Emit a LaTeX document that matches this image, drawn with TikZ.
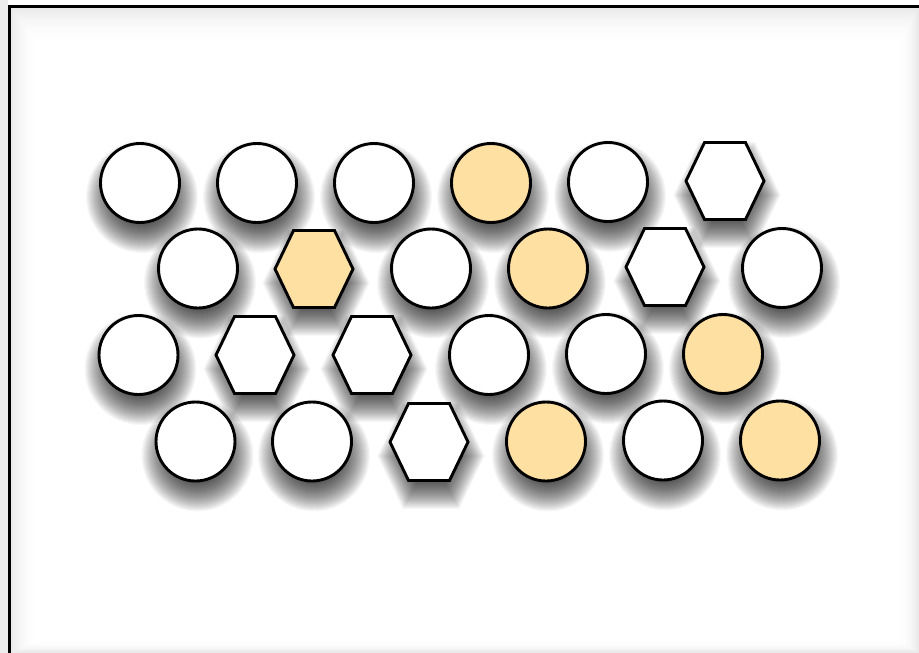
\documentclass[tikz,border=0pt]{standalone}
\definecolor{lightorange}{HTML}{FFE0A3}
\tikzset{
  shapeline/.style={draw=black, line width=2.9pt, line join=miter},
  plaincircle/.style={circle, shapeline, minimum size=79pt, inner sep=0pt},
  shadowlayer/.style={fill=black, opacity=0.03}
}
\newcommand{\hexat}[2]{([shift={({-39*#2},0)}]#1) -- ([shift={({-20.5*#2},{-38.5*#2})}]#1) -- ([shift={({20.5*#2},{-38.5*#2})}]#1)
    -- ([shift={({39*#2},0)}]#1) -- ([shift={({20.5*#2},{38.5*#2})}]#1) -- ([shift={({-20.5*#2},{38.5*#2})}]#1) -- cycle}
\begin{document}
\begin{tikzpicture}[x=1pt,y=-1pt]
\useasboundingbox (0,0) rectangle (919,653);
% page background
\fill[white] (0,0) rectangle (919,653);
\fill[black!7!white] (0,0) rectangle (8,653);
% inner area with soft inner shadow (opaque nested bands)
\foreach \k in {0,...,28}{
  \pgfmathsetmacro{\f}{\k/28}
  \pgfmathsetmacro{\d}{9*(1-\f)*(1-\f)}
  \fill[black!\d!white] ({9.5+\f*(38-9.5)},{6.5+\f*(44-6.5)}) rectangle ({919-\f*(919-898)},{653-\f*(653-641)});
}
\draw[black, line width=3pt] (9.5,660) -- (9.5,6.5) -- (925,6.5);
% positions
\foreach \n/\x/\y in {r1a/140/183, r1b/257/183, r1c/374/183, r1d/491/183, r1e/608/182, r1f/725/181,
  r2a/198/268.5, r2b/314/269, r2c/431/268.5, r2d/548/268.5, r2e/665/267, r2f/782/268,
  r3a/138.5/355, r3b/255/355, r3c/372/355, r3d/489/355, r3e/606/354, r3f/723/354,
  r4a/195.5/441.5, r4b/312/441.5, r4c/429/442, r4d/546/441.5, r4e/663/440.5, r4f/780/440.5}
  {\coordinate (p\n) at (\x,\y);}
% shadows of circles
\foreach \n in {r1a,r1b,r1c,r1d,r1e,r2a,r2c,r2d,r2f,r3a,r3d,r3e,r3f,r4a,r4b,r4d,r4e,r4f}{
  \foreach \r in {18,19,...,56}{
    \fill[shadowlayer] ([shift={(2,14)}]p\n) circle[radius=\r];
  }
}
% shadows of hexagons
\foreach \n in {r1f,r2b,r2e,r3b,r3c,r4c}{
  \coordinate (s\n) at ([shift={(2,14)}]p\n);
  \foreach \s in {0.45,0.475,...,1.4}{
    \fill[shadowlayer] \hexat{s\n}{\s};
  }
}
% circles
\foreach \n/\c in {r1a/white, r1b/white, r1c/white, r1d/lightorange, r1e/white,
  r2a/white, r2c/white, r2d/lightorange, r2f/white,
  r3a/white, r3d/white, r3e/white, r3f/lightorange,
  r4a/white, r4b/white, r4d/lightorange, r4e/white, r4f/lightorange}{
  \node[plaincircle, fill=\c] (\n) at (p\n) {};
}
% hexagons
\foreach \n/\c in {r1f/white, r2b/lightorange, r2e/white, r3b/white, r3c/white, r4c/white}{
  \draw[shapeline, fill=\c] \hexat{p\n}{1};
}
\end{tikzpicture}
\end{document}
